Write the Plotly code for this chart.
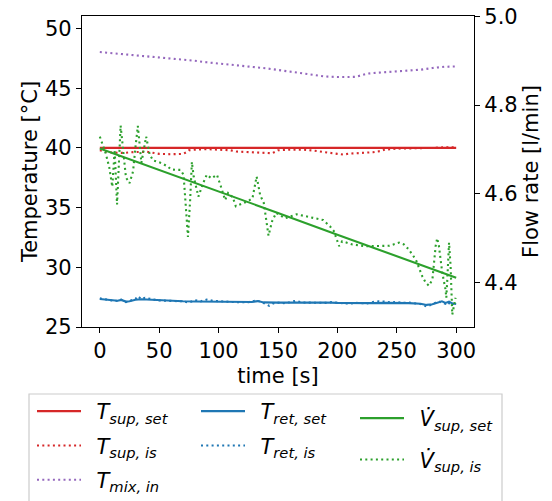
import plotly.graph_objects as go

# ---------------- data ----------------
# supply temperature set point / measured [°C]
t_sup_set = [0, 50, 100, 150, 200, 250, 300]
T_sup_set = [40.0, 40.0, 40.0, 40.0, 40.0, 40.0, 40.0]

t_sup_is = [0, 5, 10, 20, 30, 40, 45, 50, 60, 70, 73, 75, 80, 90, 100, 110, 115, 120, 130, 140,
            145, 148, 150, 160, 170, 180, 190, 200, 205, 210, 220, 230, 237, 240, 250, 260, 270, 280, 290, 300]
T_sup_is = [39.8, 39.72, 39.62, 39.58, 39.66, 39.67, 39.6, 39.5, 39.47, 39.5, 39.65, 39.8, 39.85, 39.9, 39.85,
            39.8, 39.7, 39.67, 39.6, 39.52, 39.55, 39.7, 39.8, 39.86, 39.86, 39.78, 39.67, 39.5, 39.44, 39.52,
            39.58, 39.64, 39.75, 39.86, 39.94, 39.95, 39.95, 40.0, 40.05, 40.05]

# mixing inlet temperature [°C]
t_mix_in = [0, 10, 20, 30, 40, 50, 60, 70, 80, 90, 100, 110, 120, 130, 140, 150, 160, 170, 180, 190,
            200, 210, 215, 220, 225, 230, 240, 250, 260, 270, 280, 290, 300]
T_mix_in = [48.03, 47.94, 47.83, 47.72, 47.66, 47.6, 47.5, 47.36, 47.3, 47.17, 47.08, 47.0, 46.88, 46.78,
            46.67, 46.53, 46.38, 46.28, 46.1, 45.98, 45.94, 45.92, 45.95, 46.08, 46.22, 46.27, 46.33, 46.38,
            46.47, 46.55, 46.69, 46.8, 46.82]

# return temperature set / measured [°C]
t_ret_set = [0, 5, 10, 15, 18, 22, 25, 30, 35, 40, 45, 50, 60, 70, 80, 90, 100, 110, 120, 128,
             133, 138, 150, 160, 170, 180, 190, 200, 210, 220, 230, 240, 250, 260, 270, 275, 280, 285, 288, 291,
             294, 297, 300]
T_ret_set = [27.35, 27.3, 27.22, 27.2, 27.27, 27.13, 27.15, 27.28, 27.33, 27.3, 27.28, 27.22, 27.18, 27.16,
             27.14, 27.14, 27.13, 27.1, 27.08, 27.1, 27.17, 27.06, 27.04, 27.05, 27.04, 27.05, 27.05, 27.02,
             27.0, 27.0, 27.0, 27.02, 27.03, 27.0, 26.95, 26.85, 26.9, 27.05, 27.15, 27.02, 27.12, 26.96, 26.93]

t_ret_is = [0, 5, 10, 15, 18, 22, 26, 30, 32, 35, 38, 42, 45, 50, 55, 60, 65, 70, 75, 80,
            85, 90, 95, 100, 105, 110, 115, 120, 125, 132, 137, 142.5, 147, 152, 155, 160, 165, 170, 175, 180,
            185, 190, 195, 200, 205, 210, 215, 220, 225, 230, 235, 240, 245, 250, 255, 260, 265, 270, 275, 280,
            285, 288, 291, 293, 296, 298, 300]
T_ret_is = [27.4, 27.3, 27.22, 27.18, 27.3, 27.08, 27.2, 27.35, 27.58, 27.32, 27.45, 27.35, 27.3, 27.22, 27.2,
            27.2, 27.15, 27.15, 27.05, 27.25, 27.15, 27.3, 27.2, 27.15, 27.12, 27.1, 27.08, 27.1, 27.08, 27.22,
            27.05, 26.78, 27.02, 27.05, 27.0, 27.08, 27.2, 27.05, 27.04, 27.08, 27.05, 27.02, 27.08, 27.0, 26.98,
            26.96, 27.02, 27.0, 26.98, 27.1, 27.15, 27.12, 27.05, 27.1, 27.02, 27.05, 26.98, 26.92, 26.72, 26.9,
            27.15, 27.05, 26.95, 27.1, 26.8, 27.0, 26.95]

# supply flow rate set / measured [l/min]
t_vsup_set = [0, 50, 100, 150, 200, 250, 300]
V_sup_set = [4.702, 4.654, 4.605, 4.557, 4.508, 4.460, 4.411]

t_vsup_is = [0, 2, 5, 8, 10.5, 12.5, 14.5, 17.5, 20, 22, 25, 28, 30, 32, 35, 39, 42, 45, 49, 52,
             57, 60, 64, 68, 70.5, 72, 74.2, 76, 77.5, 79, 83, 87, 90, 94, 98.6, 102, 105.5, 108, 112, 114.5,
             120, 125, 128.5, 132, 135, 138, 142, 145, 148.4, 156, 165.7, 175.5, 188, 193.7, 197, 201.5, 204, 208,
             212.7, 224, 235, 243.5, 252, 256, 260, 266, 271.5, 274.3, 277, 280, 282.7, 284, 285.5, 288.3, 291,
             291.7, 292.5, 294, 295.3, 296, 296.7, 299.5]
V_sup_is = [4.729, 4.713, 4.691, 4.659, 4.616, 4.699, 4.576, 4.754, 4.691, 4.637, 4.624, 4.651, 4.705, 4.753,
            4.670, 4.729, 4.688, 4.675, 4.672, 4.669, 4.662, 4.655, 4.654, 4.654, 4.643, 4.584, 4.503, 4.584,
            4.672, 4.639, 4.594, 4.624, 4.643, 4.635, 4.643, 4.616, 4.586, 4.602, 4.592, 4.572, 4.578, 4.584,
            4.590, 4.639, 4.597, 4.580, 4.506, 4.538, 4.557, 4.545, 4.554, 4.549, 4.541, 4.527, 4.516, 4.482,
            4.493, 4.490, 4.486, 4.482, 4.482, 4.483, 4.490, 4.486, 4.475, 4.452, 4.414, 4.400, 4.393, 4.407,
            4.482, 4.500, 4.482, 4.422, 4.385, 4.366, 4.406, 4.490, 4.437, 4.393, 4.328, 4.366]

x_ticks = [0, 50, 100, 150, 200, 250, 300]
T_ticks = [25, 30, 35, 40, 45, 50]
V_ticks = [4.4, 4.6, 4.8, 5.0]

# ---------------- style ----------------
RED, BLUE, GREEN, PURPLE = "#d62728", "#1f77b4", "#2ca02c", "#9467bd"
DOT = "2px,3.3px"
FONT = "DejaVu Sans"
FS = 21
LW = 2.1

OFF = 8  # page body margin of the browser
W, H = 552 - OFF, 501 - OFF
ML, MT = 82 - OFF, 16 - OFF
MR = W - (474 - OFF)
MB = H - (327 - OFF)
PW, PH = W - ML - MR, H - MT - MB


def px_x(p):
    """page x (reference pixels) -> paper coordinate"""
    return (p - OFF - ML) / PW


def px_y(p):
    """page y (reference pixels) -> paper coordinate"""
    return (MT + PH - (p - OFF)) / PH


fig = go.Figure()


def add(x, y, name, color, dash, legend, group, yaxis="y"):
    fig.add_trace(go.Scatter(
        x=x, y=y, mode="lines", name=name, yaxis=yaxis,
        line=dict(color=color, width=LW, dash=dash),
        legend=legend, legendgroup=group, hoverinfo="skip"))


SP = "\u2002"
add(t_sup_set, T_sup_set, SP + "<i>T</i><sub><i>sup, set</i></sub>", RED, "solid", "legend", "a")
add(t_sup_is, T_sup_is, SP + "<i>T</i><sub><i>sup, is</i></sub>", RED, DOT, "legend", "b")
add(t_mix_in, T_mix_in, SP + "<i>T</i><sub><i>mix, in</i></sub>", PURPLE, DOT, "legend", "c")
add(t_ret_set, T_ret_set, SP + "<i>T</i><sub><i>ret, set</i></sub>", BLUE, "solid", "legend2", "d")
add(t_ret_is, T_ret_is, SP + "<i>T</i><sub><i>ret, is</i></sub>", BLUE, DOT, "legend2", "e")
add(t_vsup_set, V_sup_set, SP + "<i>V\u0307</i><sub><i>sup, set</i></sub>", GREEN, "solid", "legend3", "f", "y2")
add(t_vsup_is, V_sup_is, SP + "<i>V\u0307</i><sub><i>sup, is</i></sub>", GREEN, DOT, "legend3", "g", "y2")

axis_common = dict(
    showline=True, linecolor="black", linewidth=1.2, ticks="outside", ticklen=5, tickwidth=1.2,
    tickcolor="black", showgrid=False, zeroline=False, ticklabeloverflow="allow",
    tickfont=dict(family=FONT, size=FS, color="black"),
)

legend_common = dict(
    xanchor="left", yanchor="top", bgcolor="rgba(0,0,0,0)", borderwidth=0,
    font=dict(family=FONT, size=FS, color="black"), itemwidth=44, orientation="v",
)

fig.update_layout(
    width=W, height=H,
    margin=dict(l=ML, r=MR, t=MT, b=MB, autoexpand=False),
    paper_bgcolor="white", plot_bgcolor="white",
    font=dict(family=FONT, size=FS, color="black"),
    xaxis=dict(range=[-15, 315], tickvals=x_ticks, mirror=True,
               title=dict(text="time [s]", font=dict(family=FONT, size=FS), standoff=6),
               **axis_common),
    yaxis=dict(range=[25, 51.05], tickvals=T_ticks,
               title=dict(text="Temperature [°C]", font=dict(family=FONT, size=FS), standoff=1),
               **axis_common),
    yaxis2=dict(range=[4.3, 5.0008], tickvals=V_ticks, tickformat=".1f", overlaying="y", side="right",
                title=dict(text="Flow rate [l/min]", font=dict(family=FONT, size=FS), standoff=6),
                **axis_common),
    legend=dict(x=px_x(32), y=px_y(391), tracegroupgap=4, **legend_common),
    legend2=dict(x=px_x(196), y=px_y(391), tracegroupgap=4, **legend_common),
    legend3=dict(x=px_x(355), y=px_y(398), tracegroupgap=11, **legend_common),
    shapes=[dict(type="rect", xref="paper", yref="paper",
                 x0=px_x(29), x1=px_x(502), y0=px_y(394), y1=px_y(560),
                 line=dict(color="#cccccc", width=1.2), fillcolor="rgba(0,0,0,0)", layer="below")],
    showlegend=True,
)

fig.write_html("out.html")
